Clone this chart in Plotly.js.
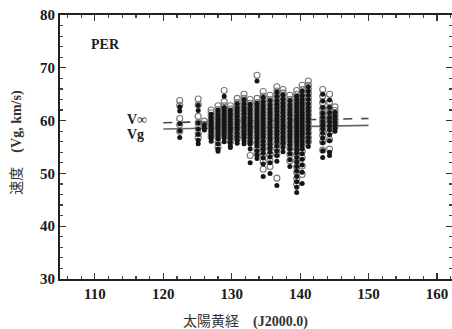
<!DOCTYPE html>
<html><head><meta charset="utf-8">
<script src="https://cdn.plot.ly/plotly-3.0.1.min.js"></script>
<style>html,body{margin:0;padding:0;background:#fff;}#chart{width:452px;height:329px;}</style>
</head><body><div id="chart"></div>
<script>
// Solar longitude of each column (J2000.0)
const columnLon = [122.4,125.1,126.0,127.0,128.0,128.9,129.8,130.8,131.8,132.7,133.7,134.6,135.6,136.6,137.5,138.5,139.5,140.3,141.2,143.3,144.3,145.1];

// Geocentric velocity Vg (filled circles), km/s, per column
const vgColumns = [
  [62.6,61.8,59.4,58.1,56.8],
  [62.9,61.9,59.6,58.4,57.4,56.3,55.6],
  [59.2,58.6,58.2],
  [61.2,60.6,60.1,59.6,59.1,58.7,58.2,57.8,57.3,56.8,56.1],
  [62.0,61.3,60.7,60.2,59.7,59.2,58.8,58.3,57.7,57.1,56.5,55.6,54.6,54.2],
  [64.6,62.5,61.9,61.3,60.8,60.3,59.8,59.3,58.9,58.4,57.9,57.3,56.7,56.0],
  [62.0,61.4,60.9,60.3,59.8,59.3,58.8,58.3,57.8,57.2,56.6,55.9,55.2,54.9],
  [63.2,62.5,61.9,61.3,60.8,60.2,59.7,59.2,58.7,58.2,57.6,57.0,56.3,55.7],
  [64.0,63.2,62.5,61.9,61.3,60.7,60.2,59.6,59.1,58.6,58.0,57.4,56.8,56.2,55.6],
  [63.1,62.4,61.8,61.2,60.6,60.0,59.5,59.0,58.4,57.9,57.3,56.7,56.1,55.5,54.6,52.0],
  [67.5,63.3,62.6,61.9,61.3,60.7,60.1,59.5,59.0,58.4,57.8,57.2,56.6,55.9,55.2,54.3,53.5,52.8],
  [64.4,63.6,62.9,62.2,61.6,61.0,60.4,59.8,59.2,58.6,58.0,57.4,56.8,56.1,55.4,54.6,53.8,52.9,51.8,49.4],
  [63.8,63.0,62.3,61.6,61.0,60.4,59.8,59.2,58.6,58.0,57.4,56.8,56.2,55.5,54.8,54.0,53.1,52.0,50.0],
  [65.4,64.6,63.8,63.1,62.4,61.7,61.0,60.4,59.8,59.2,58.6,58.0,57.4,56.7,56.0,55.2,54.3,53.4,52.3,47.7],
  [64.9,64.1,63.4,62.7,62.0,61.4,60.8,60.2,59.6,59.0,58.4,57.8,57.1,56.4,55.7,54.9,54.1],
  [63.8,63.0,62.3,61.6,61.0,60.4,59.8,59.2,58.6,58.0,57.4,56.8,56.1,55.4,54.6,53.7,52.6,51.3],
  [64.6,63.9,63.3,62.7,62.1,61.6,61.0,60.5,60.0,59.5,59.0,58.5,58.0,57.5,57.0,56.4,55.8,55.2,54.5,53.8,53.0,52.2,51.3,50.4,49.4,48.4,47.4,46.4],
  [65.6,64.8,64.1,63.4,62.8,62.2,61.6,61.0,60.4,59.8,59.2,58.6,58.0,57.4,56.8,56.1,55.4,54.6,53.7,52.7,51.6,50.2,48.1],
  [66.4,65.6,64.8,64.0,63.2,62.5,61.8,61.1,60.4,59.7,59.0,58.3,57.6,56.8,56.0,55.1],
  [65.0,63.7,62.5,61.4,60.6,59.8,59.1,58.4,57.6,56.7,55.8,54.3,53.0],
  [63.9,62.5,61.5,60.6,59.8,59.0,58.2,57.3,56.2,54.0,53.4],
  [61.6,60.9,60.3,59.7,59.1,58.5,58.0]
];

// Pre-atmospheric velocity V-infinity (open circles), km/s, per column
const vinfColumns = [
  [63.8,62.9,60.4,59.2,58.0],
  [64.1,63.0,60.8,59.6,58.6,57.5,56.8],
  [59.9,59.3],
  [62.0,61.5,60.9,60.2,59.6,58.9,58.2,57.5,56.9],
  [62.8,62.1,61.4,60.7,60.0,59.3,58.5,57.8,56.9,55.8,55.0],
  [65.7,63.6,62.8,62.0,61.2,60.4,59.6,58.8,58.0,57.2],
  [62.8,62.2,61.5,60.8,60.0,59.2,58.4,57.6,56.8,56.0],
  [64.2,63.4,62.7,62.0,61.2,60.4,59.6,58.8,58.0,57.1,56.6],
  [65.0,64.2,63.4,62.6,61.8,61.0,60.2,59.4,58.6,57.8,57.0],
  [64.0,63.3,62.6,61.8,61.0,60.2,59.4,58.6,57.8,57.0,56.0,53.4],
  [68.6,64.2,63.4,62.6,61.8,61.0,60.2,59.4,58.6,57.8,56.8,55.8,54.6,53.8],
  [65.5,64.6,63.8,63.0,62.2,61.4,60.6,59.8,59.0,58.2,57.4,56.6,55.6,54.6,53.4,52.2,50.8],
  [64.8,64.0,63.2,62.4,61.6,60.8,60.0,59.2,58.4,57.6,56.8,55.8,54.8,53.6,52.4,51.3],
  [66.4,65.6,64.8,64.0,63.2,62.4,61.6,60.8,60.0,59.2,58.4,57.6,56.6,55.6,54.6,53.6,49.1],
  [65.9,65.2,64.4,63.6,62.8,62.0,61.2,60.4,59.6,58.8,58.0,57.2,56.4,55.6],
  [64.8,64.0,63.2,62.4,61.6,60.8,60.0,59.2,58.4,57.6,56.8,55.8,54.8,53.6,52.4],
  [65.7,65.0,64.4,63.6,62.8,62.0,61.2,60.4,59.6,58.8,58.0,57.2,56.4,55.6,54.6,53.6,52.4,51.2,50.2,49.0,48.0],
  [66.7,65.9,65.1,64.3,63.5,62.7,61.9,61.1,60.3,59.5,58.7,57.9,57.0,56.1,55.2,54.2,53.0,51.4,49.8],
  [67.5,66.7,65.9,65.1,64.3,63.5,62.7,61.9,61.1,60.3,59.5,58.6,57.7,56.8,56.0],
  [65.9,64.6,63.4,62.3,61.4,60.5,59.8,59.0,58.2,57.2,56.0,54.4],
  [65.0,63.5,62.4,61.4,60.5,59.6,58.8,57.8,56.4,54.6],
  [62.6,61.9,61.2,60.6,60.0,59.4,58.9]
];

// Mean lines
const lineLon = [120, 150];
const vinfLine = [59.6, 60.4];
const vgLine = [58.4, 59.1];

const xTickVals = [110,120,130,140,150,160];
const yTickVals = [30,40,50,60,70,80];

function flatten(cols){
  const x=[], y=[];
  cols.forEach((c,i)=>c.forEach(v=>{x.push(columnLon[i]); y.push(v);}));
  return {x,y};
}
const vg = flatten(vgColumns);
const vinf = flatten(vinfColumns);

const serif = 'Liberation Serif';
const cjk = 'Noto Sans CJK JP';
const traces = [
  {x: lineLon, y: vinfLine, mode:'lines', line:{color:'#444', width:1.6, dash:'dash'}, hoverinfo:'skip'},
  {x: lineLon, y: vgLine, mode:'lines', line:{color:'#666', width:1.6}, hoverinfo:'skip'},
  {x: vinf.x, y: vinf.y, mode:'markers', marker:{symbol:'circle-open', size:6, color:'#777', line:{width:1.1, color:'#777'}}},
  {x: vg.x, y: vg.y, mode:'markers', marker:{symbol:'circle', size:5, color:'#151515'}}
];

const axisCommon = {
  showgrid:false, zeroline:false, showline:true, linecolor:'#222', linewidth:2,
  ticks:'inside', ticklen:6, tickwidth:1.2, tickcolor:'#333', mirror:'ticks',
  tickfont:{family: serif, size:15, color:'#1a1a1a', weight:700}
};
const bold = v => '<b>' + v + '</b>';

const layout = {
  width:452, height:329,
  margin:{l:60, r:0, t:15, b:50},
  paper_bgcolor:'#fff', plot_bgcolor:'#fff',
  showlegend:false,
  xaxis: Object.assign({}, axisCommon, {range:[104.9,162.2], tickvals:xTickVals, ticktext:xTickVals.map(bold),
    minor:{dtick:2, tick0:0, ticks:'inside', ticklen:3, tickcolor:'#444'}}),
  yaxis: Object.assign({}, axisCommon, {range:[30,80], tickvals:yTickVals, ticktext:yTickVals.map(bold),
    minor:{dtick:2, tick0:0, ticks:'inside', ticklen:3, tickcolor:'#444'}}),
  annotations:[
    {xref:'paper', yref:'paper', x:0.472, y:-0.155, yanchor:'middle', xanchor:'center', showarrow:false,
     text:'太陽黄経　<span style="font-family:Liberation Serif"><b>(J2000.0)</b></span>', font:{family:cjk, size:14, color:'#333'}},
    {xref:'paper', yref:'paper', x:-0.115, y:0.52, xanchor:'center', yanchor:'middle', showarrow:false, textangle:-90,
     text:'速度　<span style="font-family:Liberation Serif"><b>(Vg, km/s)</b></span>', font:{family:cjk, size:14, color:'#333'}},
    {xref:'x', yref:'y', x:111.6, y:74.5, showarrow:false, text:'<b>PER</b>', font:{family:serif, size:14, color:'#222'}},
    {xref:'x', yref:'y', x:116.2, y:60.3, showarrow:false, text:'<b>V∞</b>', font:{family:serif, size:14, color:'#222'}},
    {xref:'x', yref:'y', x:115.9, y:57.3, showarrow:false, text:'<b>Vg</b>', font:{family:serif, size:14, color:'#222'}}
  ]
};

Plotly.newPlot('chart', traces, layout, {displayModeBar:false, staticPlot:true});
</script></body></html>
